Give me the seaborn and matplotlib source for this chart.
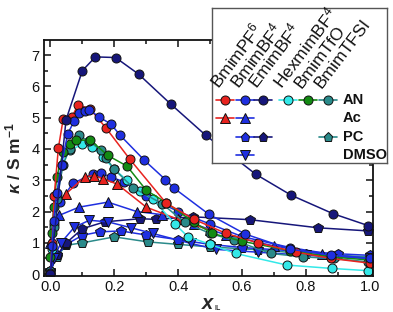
import matplotlib
matplotlib.use("Agg")
import matplotlib.pyplot as plt
import seaborn as sns
import numpy as np
from matplotlib.ticker import MultipleLocator, FormatStrFormatter

sns.set_style("ticks")
plt.rcParams['font.family'] = ['Liberation Sans', 'DejaVu Sans']
plt.rcParams['mathtext.fontset'] = 'custom'
plt.rcParams['mathtext.rm'] = 'Liberation Sans:bold'
plt.rcParams['mathtext.it'] = 'Liberation Sans:italic:bold'
plt.rcParams['mathtext.bf'] = 'Liberation Sans:bold'
plt.rcParams['mathtext.sf'] = 'Liberation Sans'

# ---------------- data ----------------
# AN solutions
an_pf6_x = [0.0, 0.005, 0.012, 0.025, 0.04, 0.068, 0.086, 0.124, 0.174, 0.248, 0.362, 0.45, 0.55, 0.65, 0.77, 0.88, 1.0]
an_pf6_y = [0.05, 1.0, 2.5, 4.03, 4.95, 5.02, 5.41, 5.28, 4.67, 3.68, 2.27, 1.75, 1.3, 1.0, 0.7, 0.5, 0.35]

an_bf4_x = [0.0, 0.005, 0.01, 0.02, 0.035, 0.054, 0.075, 0.091, 0.107, 0.122, 0.151, 0.19, 0.218, 0.294, 0.36, 0.388, 0.495, 0.61, 0.75, 0.88, 1.0]
an_bf4_y = [0.0, 0.9, 1.7, 2.6, 3.5, 4.48, 4.9, 5.14, 5.2, 5.25, 5.03, 4.79, 4.44, 3.64, 3.02, 2.74, 1.92, 1.28, 0.8, 0.6, 0.5]

an_emim_x = [0.0, 0.049, 0.1, 0.141, 0.204, 0.276, 0.377, 0.487, 0.643, 0.754, 0.885, 0.995]
an_emim_y = [0.0, 4.93, 6.5, 6.94, 6.92, 6.39, 5.43, 4.43, 3.19, 2.52, 1.93, 1.55]

an_hex_x = [0.0, 0.005, 0.01, 0.02, 0.035, 0.06, 0.1, 0.13, 0.165, 0.2, 0.24, 0.28, 0.32, 0.39, 0.43, 0.5, 0.58, 0.74, 0.883, 0.995]
an_hex_y = [0.05, 0.8, 1.6, 2.5, 3.5, 3.95, 4.15, 4.05, 3.75, 3.35, 3.0, 2.65, 2.4, 1.6, 1.2, 0.95, 0.66, 0.29, 0.18, 0.11]

an_tfo_x = [0.0, 0.005, 0.01, 0.02, 0.04, 0.06, 0.08, 0.124, 0.18, 0.24, 0.3, 0.363, 0.45, 0.507, 0.6, 0.75, 0.88, 1.0]
an_tfo_y = [0.55, 1.3, 2.15, 3.1, 3.9, 4.15, 4.27, 4.29, 3.79, 3.45, 2.68, 2.28, 1.65, 1.3, 1.05, 0.75, 0.55, 0.45]

an_tfsi_x = [0.0, 0.005, 0.01, 0.02, 0.04, 0.06, 0.09, 0.12, 0.16, 0.175, 0.2, 0.26, 0.35, 0.42, 0.5, 0.575, 0.69, 0.79, 0.888, 0.995]
an_tfsi_y = [0.1, 0.9, 1.5, 2.4, 3.5, 4.0, 4.43, 4.25, 3.95, 3.7, 3.35, 2.75, 2.25, 1.65, 1.3, 1.08, 0.66, 0.55, 0.5, 0.39]

# Ac solutions
ac_pf6_x = [0.049, 0.107, 0.135, 0.165, 0.21, 0.3, 0.4, 0.5]
ac_pf6_y = [2.57, 3.1, 3.15, 3.05, 2.87, 2.14, 1.75, 1.4]

ac_bf4_x = [0.0, 0.028, 0.09, 0.18, 0.27, 0.35, 0.45, 0.55, 0.7, 0.85, 1.0]
ac_bf4_y = [1.0, 1.88, 2.14, 2.3, 2.0, 1.9, 1.6, 1.25, 0.9, 0.65, 0.5]

ac_bf4b_x = [0.03, 0.07, 0.133, 0.159, 0.19, 0.23, 0.3, 0.4, 0.5, 0.6, 0.75, 0.9, 1.0]
ac_bf4b_y = [2.3, 2.9, 3.2, 3.22, 3.1, 2.95, 2.5, 2.0, 1.6, 1.2, 0.85, 0.6, 0.5]

# PC solutions
pc_bf4_x = [0.0, 0.02, 0.05, 0.1, 0.154, 0.22, 0.3, 0.4, 0.5, 0.6, 0.75, 0.9, 1.0]
pc_bf4_y = [0.1, 0.6, 0.95, 1.24, 1.35, 1.38, 1.25, 1.1, 0.95, 0.85, 0.75, 0.65, 0.6]

pc_emim_x = [0.0, 0.02, 0.05, 0.1, 0.17, 0.28, 0.33, 0.446, 0.624, 0.838, 0.995]
pc_emim_y = [0.1, 0.6, 1.0, 1.45, 1.67, 1.77, 1.75, 1.83, 1.74, 1.48, 1.38]

pc_tfsi_x = [0.0, 0.02, 0.049, 0.1, 0.2, 0.305, 0.4, 0.5, 0.65, 0.8, 1.0]
pc_tfsi_y = [0.1, 0.55, 0.92, 1.0, 1.19, 1.03, 0.95, 0.87, 0.78, 0.65, 0.55]

# DMSO solutions
dmso_bf4_x = [0.0, 0.01, 0.033, 0.075, 0.122, 0.18, 0.253, 0.32, 0.44, 0.52, 0.65, 0.8, 1.0]
dmso_bf4_y = [0.05, 0.5, 1.0, 1.5, 1.72, 1.67, 1.48, 1.3, 0.98, 0.79, 0.7, 0.6, 0.5]

ionic_liquids = ["BmimPF$\\mathsf{^6}$", "BmimBF$\\mathsf{^4}$", "EmimBF$\\mathsf{^4}$",
                 "HexmimBF$\\mathsf{^4}$", "BmimTfO", "BmimTFSI"]
solvents = ["AN", "Ac", "PC", "DMSO"]

# ---------------- styles ----------------
RED = '#e8231f'
BLUE = '#1f2fe0'
NAVY = '#16167a'
CYAN = '#33e8e8'
GREEN = '#138a13'
TEAL = '#2a8a8a'
col_colors = [RED, BLUE, NAVY, CYAN, GREEN, TEAL]
row_markers = ['o', '^', 'p', 'v']
row_ls = ['-', '-', '-', '-']

# (x, y, column index, row index)
series = [
    (ac_bf4b_x, ac_bf4b_y, 1, 0),
    (pc_tfsi_x, pc_tfsi_y, 5, 2),
    (pc_bf4_x, pc_bf4_y, 1, 2),
    (pc_emim_x, pc_emim_y, 2, 2),
    (dmso_bf4_x, dmso_bf4_y, 1, 3),
    (ac_bf4_x, ac_bf4_y, 1, 1),
    (ac_pf6_x, ac_pf6_y, 0, 1),
    (an_hex_x, an_hex_y, 3, 0),
    (an_tfsi_x, an_tfsi_y, 5, 0),
    (an_tfo_x, an_tfo_y, 4, 0),
    (an_pf6_x, an_pf6_y, 0, 0),
    (an_bf4_x, an_bf4_y, 1, 0),
    (an_emim_x, an_emim_y, 2, 0),
]

fig = plt.figure(figsize=(3.93, 3.12), dpi=100)
ax = fig.add_axes([44/393, 1-276/312, (373-44)/393, (276-40)/312])

for xs, ys, ci, ri in series:
    sns.lineplot(x=xs, y=ys, ax=ax, color=col_colors[ci], marker=row_markers[ri],
                 linestyle=row_ls[ri], lw=1.1, markersize=6.5 if ri != 2 else 7,
                 markeredgecolor='#111111', markeredgewidth=0.7,
                 estimator=None, sort=False, legend=False)

ax.set_xlim(-0.02, 1.01)
ax.set_ylim(-0.06, 7.48)
ax.xaxis.set_major_locator(MultipleLocator(0.2))
ax.xaxis.set_minor_locator(MultipleLocator(0.1))
ax.yaxis.set_major_locator(MultipleLocator(1))
ax.yaxis.set_minor_locator(MultipleLocator(0.5))
ax.xaxis.set_major_formatter(FormatStrFormatter('%.1f'))
ax.tick_params(which='both', direction='in', top=True, right=True, width=1.1, colors='#111111')
ax.tick_params(which='major', length=5, labelsize=10.5, pad=3)
ax.tick_params(which='minor', length=3)
for s in ax.spines.values():
    s.set_linewidth(1.3)
    s.set_color('#111111')

ax.set_xlabel(r'$x$', fontsize=14.5, labelpad=0)
fig.text(215/393, 1-309/312, 'IL', fontsize=5, fontweight='bold', ha='left', va='center')
ax.set_ylabel(r'$\kappa$ / S m$^{-1}$', fontsize=12.5, fontweight='bold', labelpad=6)

# ---------------- legend table ----------------
lax = fig.add_axes([212/393, 1-163/312, 175/393, 155/312], zorder=5)
lax.set_xlim(0, 175)
lax.set_ylim(155, 0)
lax.set_xticks([])
lax.set_yticks([])
lax.set_facecolor('white')
for s in lax.spines.values():
    s.set_color('#555555')
    s.set_linewidth(1.0)

col_x = [13, 33, 51, 76, 96, 116]
row_y = [92, 110, 129, 147]
entries = [(0, 0), (1, 0), (2, 0), (3, 0), (4, 0), (5, 0),
           (0, 1), (1, 1), (1, 2), (2, 2), (5, 2), (1, 3)]
for ci, ri in entries:
    cx, cy = col_x[ci], row_y[ri]
    lax.plot([cx - 9, cx, cx + 9], [cy, cy, cy], color=col_colors[ci],
             linestyle=row_ls[ri], lw=1.2, marker=row_markers[ri],
             markevery=[1], markersize=6.5, markeredgecolor='#111111',
             markeredgewidth=0.7)
for ci, lab in enumerate(ionic_liquids):
    lax.text(col_x[ci] - 6, 81, lab, rotation=53, rotation_mode='anchor',
             ha='left', va='baseline', fontsize=12.5, color='#111111')
for ri, lab in enumerate(solvents):
    lax.text(131, row_y[ri], lab, ha='left', va='center', fontsize=10.5,
             fontweight='bold', color='#111111')

fig.savefig('out.png', dpi=100)
